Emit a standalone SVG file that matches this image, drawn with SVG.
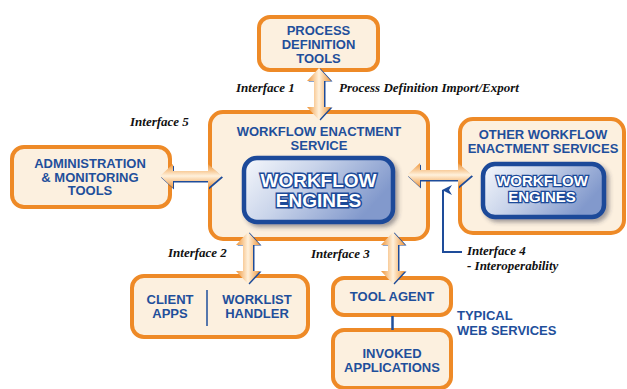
<svg xmlns="http://www.w3.org/2000/svg" width="627" height="389" viewBox="0 0 627 389">
<defs>
<style>
.box{fill:#FCF0DF;stroke:#EE8A27;stroke-width:4}
.t{font-family:"Liberation Sans",Arial,sans-serif;font-weight:bold;fill:#1F4F9B;text-anchor:middle;font-size:13px}
.lbl{font-family:"Liberation Serif","Times New Roman",serif;font-weight:bold;font-style:italic;fill:#111;font-size:13px}
.eng{fill:url(#engG);stroke:#1C4A99;stroke-width:4.5}
.et{font-family:"Liberation Sans",Arial,sans-serif;font-weight:bold;fill:#fff;stroke:#1C4A99;paint-order:stroke;text-anchor:middle}
.shadow{fill:#1E4C9A}
.av{fill:url(#gv)}
.ah{fill:url(#gh)}
</style>
<linearGradient id="engG" x1="0" y1="0" x2="1" y2="0.4">
<stop offset="0" stop-color="#F6F8FC"/>
<stop offset="0.45" stop-color="#C9D4EA"/>
<stop offset="1" stop-color="#8299CC"/>
</linearGradient>
<linearGradient id="gv" x1="0" y1="0" x2="1" y2="0">
<stop offset="0" stop-color="#EF963A"/>
<stop offset="0.5" stop-color="#FFF1DC"/>
<stop offset="1" stop-color="#EF963A"/>
</linearGradient>
<linearGradient id="gh" x1="0" y1="0" x2="0" y2="1">
<stop offset="0" stop-color="#EF963A"/>
<stop offset="0.5" stop-color="#FFF1DC"/>
<stop offset="1" stop-color="#EF963A"/>
</linearGradient>
<filter id="ds" x="-10%" y="-10%" width="130%" height="140%">
<feDropShadow dx="3" dy="3" stdDeviation="2" flood-color="#334" flood-opacity="0.45"/>
</filter>
<marker id="up" markerWidth="10" markerHeight="10" refX="5" refY="1" orient="auto-start-reverse" markerUnits="userSpaceOnUse" viewBox="0 0 10 10">
<path d="M0,10 L5,0 L10,10 L5,7 Z" fill="#1E4C9A"/>
</marker>
</defs>

<g id="process-definition-tools">
<rect class="box" x="259" y="17" width="119" height="53" rx="11"/>
<text class="t" x="318.5" y="34.5">PROCESS</text>
<text class="t" x="318.5" y="48.5">DEFINITION</text>
<text class="t" x="318.5" y="62.5">TOOLS</text>
</g>

<g id="workflow-enactment-service">
<rect class="box" x="210" y="112" width="218" height="127" rx="13"/>
<text class="t" x="319" y="136">WORKFLOW ENACTMENT</text>
<text class="t" x="319" y="150">SERVICE</text>
<rect class="eng" x="244" y="158" width="149" height="64" rx="13" filter="url(#ds)"/>
<text class="et" x="318.5" y="187" font-size="19" stroke-width="3">WORKFLOW</text>
<text class="et" x="318.5" y="207" font-size="19" stroke-width="3">ENGINES</text>
</g>

<g id="administration-monitoring-tools">
<rect class="box" x="12" y="147" width="158" height="60" rx="12"/>
<text class="t" x="90" y="168">ADMINISTRATION</text>
<text class="t" x="90" y="181.5">&amp; MONITORING</text>
<text class="t" x="90" y="195">TOOLS</text>
</g>

<g id="other-workflow-enactment-services">
<rect class="box" x="460" y="119" width="164" height="114" rx="13"/>
<text class="t" x="543" y="139" font-size="12.5">OTHER WORKFLOW</text>
<text class="t" x="543" y="153" font-size="12.5">ENACTMENT SERVICES</text>
<rect class="eng" x="483" y="164" width="121" height="53" rx="12" filter="url(#ds)"/>
<text class="et" x="542" y="186" font-size="15" stroke-width="2.6">WORKFLOW</text>
<text class="et" x="542" y="202" font-size="15" stroke-width="2.6">ENGINES</text>
</g>

<g id="client-apps-worklist-handler">
<rect class="box" x="132" y="276" width="176" height="61" rx="12"/>
<text class="t" x="170" y="304">CLIENT</text>
<text class="t" x="170" y="317.5">APPS</text>
<line x1="207" y1="290" x2="207" y2="326" stroke="#1F4F9B" stroke-width="1.5"/>
<text class="t" x="257" y="304">WORKLIST</text>
<text class="t" x="257" y="317.5">HANDLER</text>
</g>

<g id="tool-agent">
<rect class="box" x="333" y="278" width="118" height="37" rx="11"/>
<text class="t" x="392" y="301">TOOL AGENT</text>
</g>

<g id="invoked-applications">
<rect class="box" x="333" y="330" width="118" height="58" rx="11"/>
<text class="t" x="392" y="358">INVOKED</text>
<text class="t" x="392" y="372">APPLICATIONS</text>
</g>

<g id="typical-web-services">
<text class="t" x="457" y="320" style="text-anchor:start">TYPICAL</text>
<text class="t" x="457" y="335" style="text-anchor:start">WEB SERVICES</text>
</g>

<g id="connectors">
<!-- Interface 1 -->
<path class="shadow" d="M320.5,68.5 L332.5,81.5 L325.5,81.5 L325.5,107.5 L332.5,107.5 L320.5,120.5 L308.5,107.5 L315.5,107.5 L315.5,81.5 L308.5,81.5 Z"/>
<path class="av" d="M319,68 L331,81 L324,81 L324,107 L331,107 L319,120 L307,107 L314,107 L314,81 L307,81 Z"/>
<!-- Interface 2 -->
<path class="shadow" d="M249.5,232.5 L261.5,245.5 L254.5,245.5 L254.5,271.5 L261.5,271.5 L249.5,284.5 L237.5,271.5 L244.5,271.5 L244.5,245.5 L237.5,245.5 Z"/>
<path class="av" d="M248,232 L260,245 L253,245 L253,271 L260,271 L248,284 L236,271 L243,271 L243,245 L236,245 Z"/>
<!-- Interface 3 -->
<path class="shadow" d="M394.5,232.5 L406.5,245.5 L399.5,245.5 L399.5,271.5 L406.5,271.5 L394.5,284.5 L382.5,271.5 L389.5,271.5 L389.5,245.5 L382.5,245.5 Z"/>
<path class="av" d="M393,232 L405,245 L398,245 L398,271 L405,271 L393,284 L381,271 L388,271 L388,245 L381,245 Z"/>
<!-- Interface 5 -->
<path class="shadow" d="M161,177.5 L174,165.5 L174,172.5 L209,172.5 L209,165.5 L223,177.5 L209,189.5 L209,182.5 L174,182.5 L174,189.5 Z"/>
<path class="ah" d="M160,176 L173,164 L173,171 L208,171 L208,164 L222,176 L208,188 L208,181 L173,181 L173,188 Z"/>
<!-- Interface 4 horizontal -->
<path class="shadow" d="M408,176.5 L421,164.5 L421,171.5 L459,171.5 L459,164.5 L473,176.5 L459,188.5 L459,181.5 L421,181.5 L421,188.5 Z"/>
<path class="ah" d="M407,175 L420,163 L420,170 L458,170 L458,163 L472,175 L458,187 L458,180 L420,180 L420,187 Z"/>
<!-- Interface 4 pointer -->
<path d="M462,252 L443,252 L443,190" fill="none" stroke="#1E4C9A" stroke-width="2" marker-end="url(#up)"/>
<!-- Tool agent to invoked applications -->
<line x1="392.5" y1="316" x2="392.5" y2="330" stroke="#1F4F9B" stroke-width="2.5"/>
</g>

<g id="labels">
<text class="lbl" x="236" y="92">Interface 1</text>
<text class="lbl" x="339" y="92">Process Definition Import/Export</text>
<text class="lbl" x="130" y="126">Interface 5</text>
<text class="lbl" x="168" y="257">Interface 2</text>
<text class="lbl" x="311" y="258">Interface 3</text>
<text class="lbl" x="467" y="255">Interface 4</text>
<text class="lbl" x="467" y="270">- Interoperability</text>
</g>
</svg>
